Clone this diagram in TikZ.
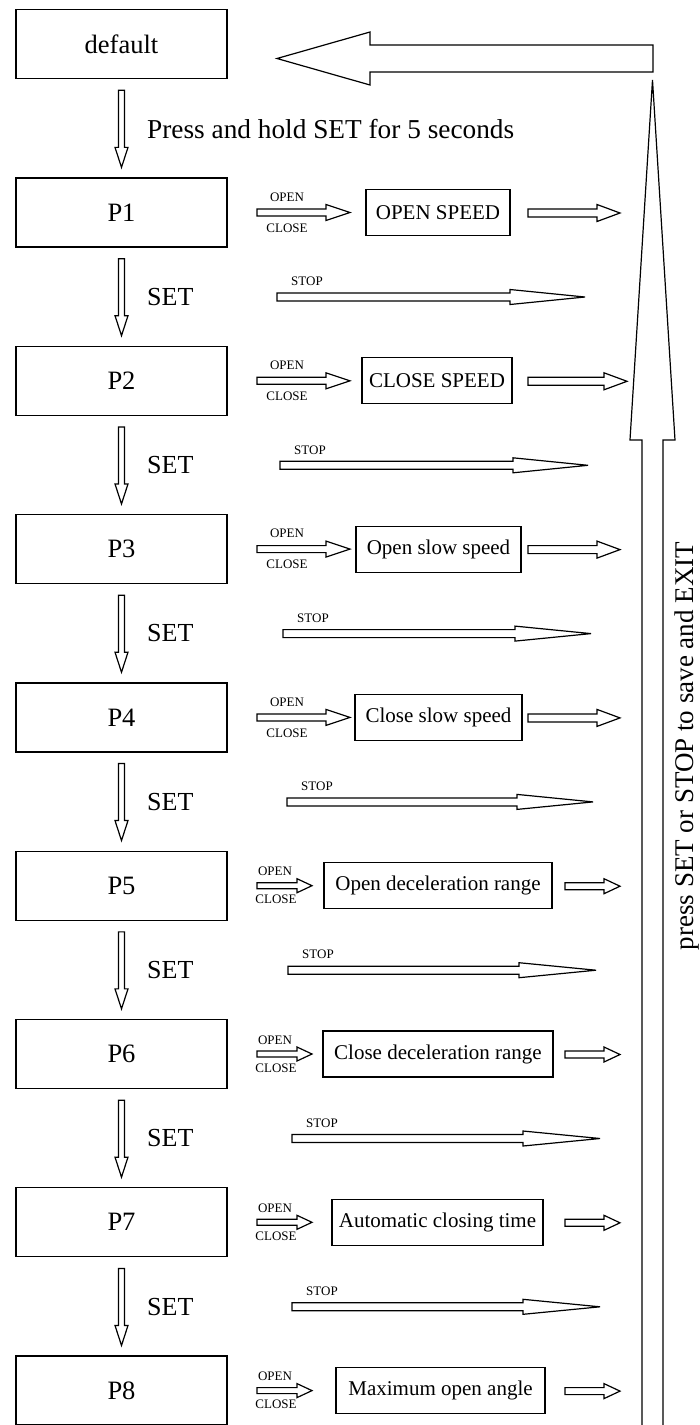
\documentclass[tikz,border=0pt]{standalone}
\usepackage{fontspec}
\setmainfont{Liberation Serif}
\usetikzlibrary{calc}
\newcommand\hblock[6]{%
  \draw[#6] let \p1=(#1), \p2=(#2) in
    (\x1,\y1+#3) -- (\x2-#5,\y1+#3) -- (\x2-#5,\y1+#4) -- (\x2,\y1)
    -- (\x2-#5,\y1-#4) -- (\x2-#5,\y1-#3) -- (\x1,\y1-#3) -- cycle;}
\newcommand\vblock[6]{%
  \draw[#6] let \p1=(#1), \p2=(#2) in
    (\x1-#3,\y1) -- (\x1-#3,\y2+#5) -- (\x1-#4,\y2+#5) -- (\x1,\y2)
    -- (\x1+#4,\y2+#5) -- (\x1+#3,\y2+#5) -- (\x1+#3,\y1) -- cycle;}
\tikzset{
  pbox/.style={draw, line width=1.3pt, minimum width=211pt, minimum height=69pt,
    inner sep=0pt, font=\fontsize{26.5}{30}\selectfont},
  vbox/.style={draw, line width=1.2pt, minimum height=46pt, inner sep=0pt,
    font=\fontsize{21}{25}\selectfont},
  lbl/.style={inner sep=0pt, font=\fontsize{13}{15}\selectfont},
  bigtxt/.style={inner sep=0pt, font=\fontsize{26}{30}\selectfont},
  blk/.style={draw, line width=1.2pt, line join=miter, fill=white},
}
\begin{document}
\begin{tikzpicture}[x=1pt,y=-1pt]
\useasboundingbox (0,0) rectangle (700,1425);
\fill[white] (0,0) rectangle (700,1425);

% default box
\node[pbox] (def) at (121.5,44) {default};

% P boxes and value boxes
\foreach \rk/\ry/\rtxt/\rvx/\rvw in {
  1/212.5/OPEN SPEED/438/144,
  2/380.8/CLOSE SPEED/437/150,
  3/549.1/Open slow speed/438.5/165,
  4/717.4/Close slow speed/438.5/167,
  5/885.7/Open deceleration range/438/228,
  6/1054.0/Close deceleration range/438/230,
  7/1222.3/Automatic closing time/437.5/211,
  8/1390.6/Maximum open angle/440.5/209}{
  \node[pbox] (P\rk) at (121.5,\ry) {P\rk};
  \node[vbox, minimum width=\rvw pt] (V\rk) at (\rvx,\ry) {\rtxt};
}

% OPEN/CLOSE arrows, rows 1-4
\foreach \rk/\ry/\rtip in {1/212.5/620, 2/380.8/627, 3/549.1/620, 4/717.4/620}{
  \coordinate (os\rk) at (257,\ry);
  \coordinate (ot\rk) at (350,\ry);
  \hblock{os\rk}{ot\rk}{3.5pt}{8pt}{24pt}{blk}
  \node[lbl] (open\rk) at (287,\ry-15.5) {OPEN};
  \node[lbl] (close\rk) at (287,\ry+15.5) {CLOSE};
  \coordinate (rs\rk) at (528,\ry+0.5);
  \coordinate (rt\rk) at (\rtip,\ry+0.5);
  \hblock{rs\rk}{rt\rk}{4pt}{8.5pt}{23pt}{blk}
}
% OPEN/CLOSE arrows, rows 5-8
\foreach \rk/\ry in {5/885.7, 6/1054.0, 7/1222.3, 8/1390.6}{
  \coordinate (os\rk) at (257,\ry);
  \coordinate (ot\rk) at (312,\ry);
  \hblock{os\rk}{ot\rk}{3pt}{7pt}{15pt}{blk}
  \node[lbl] (open\rk) at (275,\ry-14) {OPEN};
  \node[lbl] (close\rk) at (276,\ry+14) {CLOSE};
  \coordinate (rs\rk) at (565,\ry+0.5);
  \coordinate (rt\rk) at (620,\ry+0.5);
  \hblock{rs\rk}{rt\rk}{3.5pt}{7.5pt}{16pt}{blk}
}

% STOP arrows
\foreach \rk/\ry/\sx/\tx/\hl in {
  1/297/277/585/75, 2/465.3/280/588/75, 3/633.6/283/591/76,
  4/801.9/287/593/76, 5/970.2/288/596/77, 6/1138.5/292/600/77,
  7/1306.8/292/600/77}{
  \coordinate (ss\rk) at (\sx,\ry);
  \coordinate (st\rk) at (\tx,\ry);
  \hblock{ss\rk}{st\rk}{4pt}{7.5pt}{\hl pt}{blk}
  \node[lbl, anchor=west] (stop\rk) at (\sx+14,\ry-15.5) {STOP};
}

% SET arrows
\vblock{$(def.south)+(0,11)$}{$(P1.north)+(0,-10)$}{3pt}{6.5pt}{20pt}{blk}
\node[bigtxt, anchor=west, font=\fontsize{27.3}{31}\selectfont] (press) at (147,129)
  {Press and hold SET for 5 seconds};
\foreach \rk/\rnx/\ry in {1/2/296.8, 2/3/465.1, 3/4/633.4, 4/5/801.7, 5/6/970, 6/7/1138.3, 7/8/1306.6}{
  \vblock{$(P\rk.south)+(0,11)$}{$(P\rnx.north)+(0,-10)$}{3pt}{6.5pt}{20pt}{blk}
  \node[bigtxt, anchor=west] (set\rk) at (147,\ry) {SET};
}

% big return arrows
\coordinate (bl) at (653,58.5);
\coordinate (bt) at (277,58.5);
\hblock{bl}{bt}{13.5pt}{26.5pt}{-93pt}{blk}
\coordinate (vb) at (652.5,1445);
\coordinate (vt) at (652.5,80);
\vblock{vb}{vt}{10.5pt}{22.5pt}{-360pt}{blk}
\node[inner sep=0pt, font=\fontsize{27}{31}\selectfont, rotate=90] (exit) at (686.5,746)
  {press SET or STOP to save and EXIT};
\end{tikzpicture}
\end{document}
